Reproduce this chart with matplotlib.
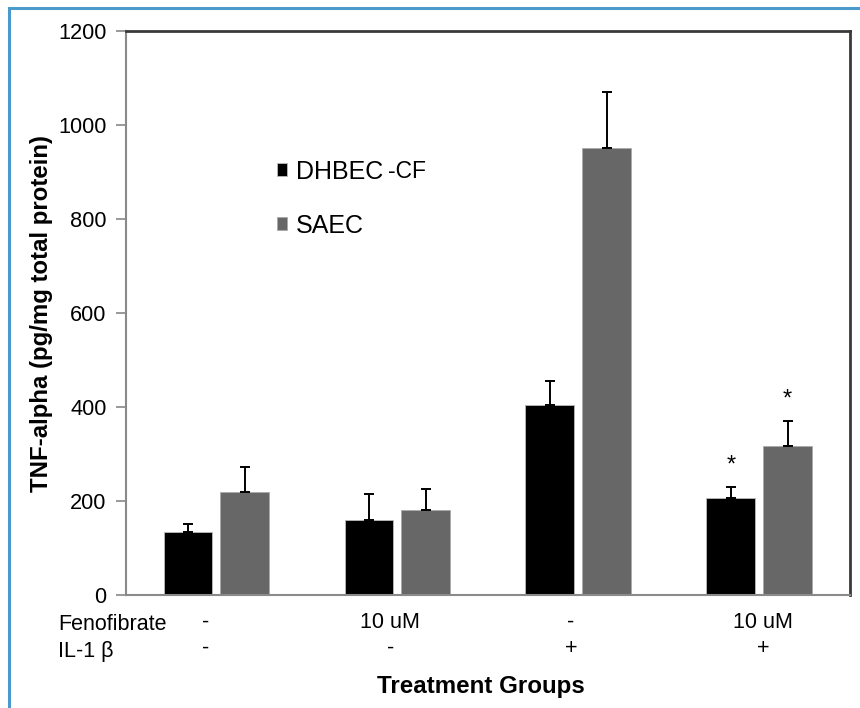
import matplotlib
matplotlib.use('Agg')
import matplotlib.pyplot as plt
import matplotlib.patches as mpatches
import numpy as np

plt.rcParams['font.family'] = ['Liberation Sans', 'DejaVu Sans']

# dane
groups = ['g1', 'g2', 'g3', 'g4']
fenofibrate = ['-', '10 uM', '-', '10 uM']
il1 = ['-', '-', '+', '+']
dhbec = [135, 159, 405, 207]
dhbec_err = [17, 55, 50, 23]
saec = [220, 180, 952, 317]
saec_err = [52, 46, 118, 53]
star_dhbec = [False, False, False, True]
star_saec = [False, False, False, True]

fig = plt.figure(figsize=(8.6, 7.08), dpi=100)
ax = fig.add_axes([0.1465, 0.1596, 0.988 - 0.1465, 0.956 - 0.1596])

# ramka dookoła
fig.patches.append(mpatches.Rectangle((8.5 / 860, -0.1), 1.2, 1.1 - 8.5 / 708,
                                      transform=fig.transFigure, fill=False,
                                      edgecolor='#4a9acb', linewidth=2.2))

x = np.arange(len(groups))
w = 0.27
off = 0.157
ekw = dict(elinewidth=1.4, capthick=1.4, ecolor='black')
b1 = ax.bar(x - off, dhbec, w, color='black', edgecolor='#bbbbbb', linewidth=0.6,
            yerr=[np.zeros(4), dhbec_err], capsize=3.5, error_kw=ekw, label='DHBEC')
b2 = ax.bar(x + off, saec, w, color='#676767', edgecolor='#aaaaaa', linewidth=0.6,
            yerr=[np.zeros(4), saec_err], capsize=3.5, error_kw=ekw, label='SAEC')

for i in range(len(groups)):
    if star_dhbec[i]:
        ax.text(x[i] - off, dhbec[i] + dhbec_err[i] + 45, '*', ha='center', va='center', fontsize=17)
    if star_saec[i]:
        ax.text(x[i] + off, saec[i] + saec_err[i] + 45, '*', ha='center', va='center', fontsize=17)

ax.set_xlim(-0.5, 3.5)
ax.set_ylim(0, 1200)
ax.set_yticks(np.arange(0, 1201, 200))
ax.set_xticks([])
ax.tick_params(axis='y', labelsize=15.7, length=7, width=1.2, color='#888888', pad=7)
ax.set_ylabel('TNF-alpha (pg/mg total protein)', fontsize=17.3, fontweight='bold', labelpad=4)

for s in ['left', 'bottom']:
    ax.spines[s].set_color('#8a8a8a')
    ax.spines[s].set_linewidth(1.5)
for s in ['top', 'right']:
    ax.spines[s].set_color('#3a3a3a')
    ax.spines[s].set_linewidth(2)

# wiersze z warunkami pod osią
shift = [-0.06, -0.04, -0.04, 0.02]
for i in range(len(groups)):
    ax.text(x[i] + shift[i], -58, fenofibrate[i], ha='center', va='center', fontsize=15.5,
            clip_on=False)
    ax.text(x[i] + shift[i], -114, il1[i], ha='center', va='center', fontsize=15.5,
            clip_on=False)
fig.text(58 / 860, 1 - 625 / 708, 'Fenofibrate', ha='left', va='center', fontsize=15.5)
fig.text(58 / 860, 1 - 652 / 708, 'IL-1 β', ha='left', va='center', fontsize=15.5)
fig.text(481 / 860, 1 - 687 / 708, 'Treatment Groups', ha='center', va='center',
         fontsize=17.4, fontweight='bold')

ax.legend(loc='upper left', bbox_to_anchor=(0.209, 0.772), frameon=False, fontsize=18,
          handlelength=0.4, handleheight=0.4, handletextpad=0.36, labelspacing=1.2,
          borderpad=0, borderaxespad=0)
ax.text(0.362, 0.739, '-CF', transform=ax.transAxes, fontsize=16.5, ha='left', va='baseline')

fig.savefig('out.png', dpi=100)
